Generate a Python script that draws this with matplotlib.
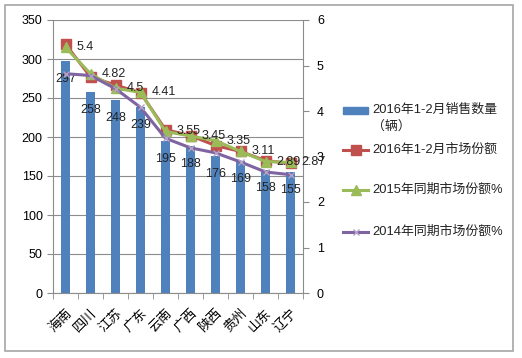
import numpy as np
import matplotlib
matplotlib.use("Agg")
import matplotlib.pyplot as plt

plt.rcParams['font.family'] = ['Liberation Sans', 'Noto Sans CJK SC', 'DejaVu Sans']

# data
provinces = ["海南", "四川", "江苏", "广东", "云南", "广西", "陕西", "贵州", "山东", "辽宁"]
sales_2016 = [297, 258, 248, 239, 195, 188, 176, 169, 158, 155]
share_2016 = [5.47, 4.75, 4.57, 4.40, 3.59, 3.46, 3.24, 3.11, 2.91, 2.85]
share_2015 = [5.4, 4.82, 4.5, 4.41, 3.55, 3.45, 3.35, 3.11, 2.89, 2.87]
share_2014 = [4.82, 4.78, 4.49, 4.08, 3.40, 3.19, 3.08, 2.88, 2.66, 2.60]

left_ticks = [0, 50, 100, 150, 200, 250, 300, 350]
right_ticks = [0, 1, 2, 3, 4, 5, 6]

labels = ["2016年1-2月销售数量\n（辆）", "2016年1-2月市场份额",
          "2015年同期市场份额%", "2014年同期市场份额%"]

BLUE = "#4F81BD"
RED = "#C0504D"
GREEN = "#9BBB59"
PURPLE = "#8064A2"
GRID = "#8C8C8C"

fig = plt.figure(figsize=(5.22, 3.58), dpi=100)

# overlay in pixel coordinates for the border and the legend
lax = fig.add_axes([0, 0, 1, 1])
lax.set_xlim(0, 522)
lax.set_ylim(358, 0)
lax.axis("off")
lax.add_patch(plt.Rectangle((5, 5), 508, 346, fill=False,
                            edgecolor="#A6A6A6", linewidth=1.2))

ax = fig.add_axes([53 / 522, 65 / 358, 250 / 522, 273 / 358])
x = np.arange(len(provinces))

bars = ax.bar(x, sales_2016, width=0.36, color=BLUE, zorder=2)
for xi, v in zip(x, sales_2016):
    ax.annotate(str(v), (xi, v), xytext=(0, -18), textcoords="offset pixels",
                ha="center", va="center", fontsize=9, color="#222222", zorder=5)

ax.set_xlim(-0.5, len(provinces) - 0.5)
ax.set_ylim(0, 350)
ax.set_yticks(left_ticks)
ax.yaxis.grid(True, color=GRID, linewidth=0.8)
ax.set_axisbelow(True)
ax.set_xticks(x)
ax.set_xticklabels(provinces, rotation=45, ha="right", rotation_mode="anchor",
                   fontsize=9.5)
ax.set_xticks(np.arange(-0.5, len(provinces) + 0.5, 1), minor=True)
ax.tick_params(axis="x", which="major", length=0, pad=10)
ax.tick_params(axis="x", which="minor", length=4, color=GRID)
ax.tick_params(axis="y", length=4, color=GRID, labelsize=9)
for s in ["top", "right"]:
    ax.spines[s].set_visible(False)
for s in ["left", "bottom"]:
    ax.spines[s].set_color(GRID)

ax2 = ax.twinx()
line_styles = [
    dict(color=RED, linewidth=2.2, marker="s", markersize=6.5),
    dict(color=GREEN, linewidth=2.2, marker="^", markersize=7),
    dict(color=PURPLE, linewidth=2.2, marker="x", markersize=5,
         markeredgecolor="#B3A2C7", markeredgewidth=1),
]
for series, st in zip([share_2016, share_2015, share_2014], line_styles):
    ax2.plot(x, series, **st)
for xi, v in zip(x, share_2015):
    ax2.annotate(f"{v:g}", (xi, v), xytext=(11, 0), textcoords="offset pixels",
                 ha="left", va="center", fontsize=9, color="#222222")

ax2.set_ylim(0, 6)
ax2.set_yticks(right_ticks)
ax2.tick_params(axis="y", length=4, color=GRID, labelsize=9, pad=6)
for s in ["top", "left", "bottom"]:
    ax2.spines[s].set_visible(False)
ax2.spines["right"].set_color(GRID)

# legend drawn by hand so the bar swatch sits on the first text line
leg_y = [110, 150, 190, 232]
lax.add_patch(plt.Rectangle((343, leg_y[0] - 3.5), 25, 7, color=BLUE))
for yy, st in zip(leg_y[1:], line_styles):
    lax.plot([343, 368], [yy, yy], color=st["color"], linewidth=2.2)
    lax.plot([355.5], [yy], **{k: v for k, v in st.items() if k != "linewidth"})
first, second = labels[0].split("\n")
lax.text(372, leg_y[0], first, fontsize=9.3, va="center", ha="left", color="#222222")
lax.text(372, leg_y[0] + 17, second, fontsize=9.3, va="center", ha="left", color="#222222")
for yy, lab in zip(leg_y[1:], labels[1:]):
    lax.text(372, yy, lab, fontsize=9.3, va="center", ha="left", color="#222222")

fig.savefig("out.png", dpi=100)
